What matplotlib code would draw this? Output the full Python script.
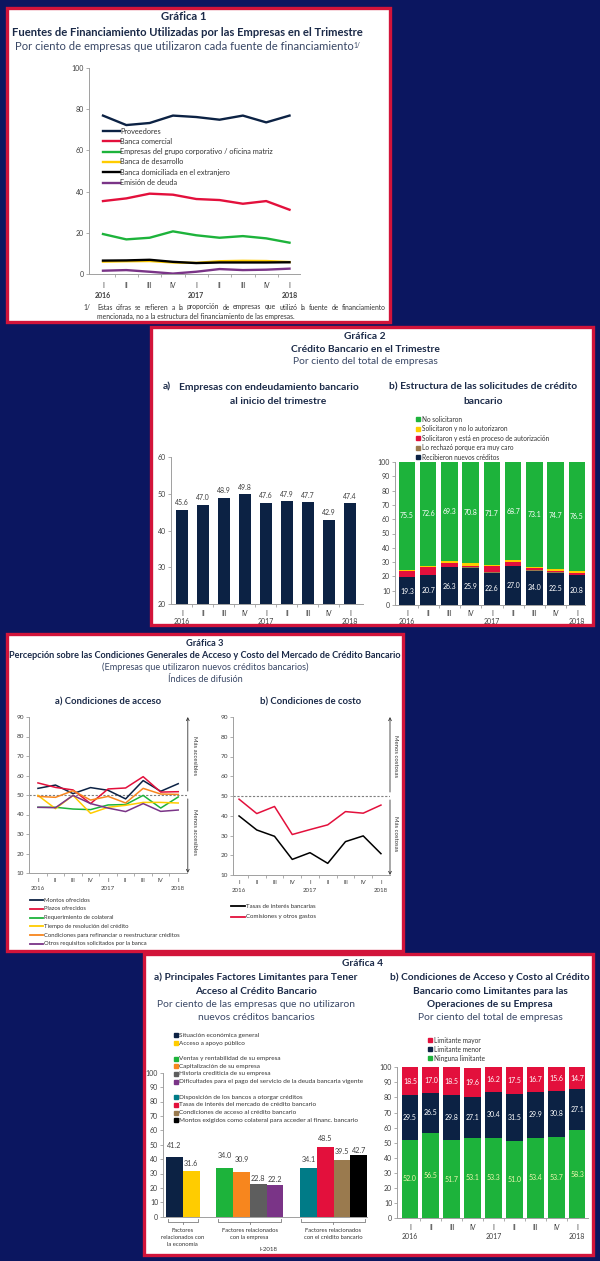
import matplotlib
matplotlib.use("Agg")
import matplotlib.pyplot as plt
from matplotlib.patches import Rectangle
from matplotlib.lines import Line2D
from matplotlib.transforms import blended_transform_factory
import numpy as np

plt.rcParams['font.family'] = ['Lato', 'DejaVu Sans']

# ---------------------------------------------------------------- data
quarters = ["I", "II", "III", "IV", "I", "II", "III", "IV", "I"]
years = {0: "2016", 4: "2017", 8: "2018"}

# Gráfica 1
g1_labels = ["Proveedores", "Banca comercial",
             "Empresas del grupo corporativo / oficina matriz",
             "Banca de desarrollo", "Banca domiciliada en el extranjero",
             "Emisión de deuda"]
proveedores = [76.9, 72.3, 73.3, 76.9, 76.2, 74.9, 76.9, 73.6, 76.9]
banca_comercial = [35.4, 36.7, 39.0, 38.5, 36.4, 35.9, 34.1, 35.4, 31.2]
empresas_grupo = [19.4, 16.8, 17.6, 20.7, 18.8, 17.6, 18.4, 17.3, 15.2]
banca_desarrollo = [6.0, 6.2, 6.3, 5.6, 5.4, 6.2, 6.4, 6.3, 5.8]
banca_extranjero = [6.5, 6.6, 6.9, 5.9, 5.3, 5.6, 5.6, 5.6, 5.7]
emision_deuda = [1.6, 1.9, 1.1, 0.2, 1.1, 2.4, 1.9, 2.1, 2.6]

# Gráfica 2
endeudamiento = [45.6, 47.0, 48.9, 49.8, 47.6, 47.9, 47.7, 42.9, 47.4]
g2b_labels = ["No solicitaron", "Solicitaron y no lo autorizaron",
              "Solicitaron y está en proceso de autorización",
              "Lo rechazó porque era muy caro", "Recibieron nuevos créditos"]
recibieron = [19.3, 20.7, 26.3, 25.9, 22.6, 27.0, 24.0, 22.5, 20.8]
rechazo_caro = [0.3, 0.3, 0.3, 0.6, 0.5, 0.3, 0.5, 0.4, 0.4]
en_proceso = [4.2, 5.4, 2.7, 1.1, 3.9, 2.8, 1.2, 1.2, 1.3]
no_autorizaron = [0.7, 1.0, 1.4, 1.6, 1.3, 1.2, 1.2, 1.2, 1.0]
no_solicitaron = [75.5, 72.6, 69.3, 70.8, 71.7, 68.7, 73.1, 74.7, 76.5]

# Gráfica 3
g3a_labels = ["Montos ofrecidos", "Plazos ofrecidos", "Requerimiento de colateral",
              "Tiempo de resolución del crédito",
              "Condiciones para refinanciar o reestructurar créditos",
              "Otros requisitos solicitados por la banca"]
montos = [53.4, 55.1, 50.7, 53.8, 52.4, 48.0, 57.4, 51.9, 55.8]
plazos = [56.2, 53.9, 52.6, 45.6, 53.1, 53.6, 59.4, 51.5, 51.7]
colateral = [43.7, 43.7, 42.8, 42.5, 44.9, 45.1, 49.8, 43.3, 49.0]
tiempo = [49.8, 43.0, 49.8, 40.6, 43.7, 44.7, 46.2, 46.2, 45.9]
refinanciar = [49.3, 48.8, 52.2, 47.4, 49.3, 45.9, 53.4, 50.5, 50.3]
otros = [43.7, 43.5, 49.8, 45.6, 43.3, 41.5, 45.6, 41.6, 42.3]
g3b_labels = ["Tasas de interés bancarias", "Comisiones y otros gastos"]
tasas = [39.9, 32.8, 29.6, 17.9, 21.3, 15.9, 26.9, 29.8, 20.8]
comisiones = [48.4, 41.1, 44.7, 30.5, 33.0, 35.4, 42.1, 41.3, 45.4]

# Gráfica 4 a)
g4a_labels = ["Situación económica general", "Acceso a apoyo público",
              "Ventas y rentabilidad de su empresa", "Capitalización de su empresa",
              "Historia crediticia de su empresa",
              "Dificultades para el pago del servicio de la deuda bancaria vigente",
              "Disposición de los bancos a otorgar créditos",
              "Tasas de interés del mercado de crédito bancario",
              "Condiciones de acceso al crédito bancario",
              "Montos exigidos como colateral para acceder al financ. bancario"]
g4a_values = [41.2, 31.6, 34.0, 30.9, 22.8, 22.2, 34.1, 48.5, 39.5, 42.7]
g4a_groups = [0, 0, 1, 1, 1, 1, 2, 2, 2, 2]
g4a_group_names = ["Factores\nrelacionados con\nla economía",
                   "Factores relacionados\ncon la empresa",
                   "Factores relacionados\ncon el crédito bancario"]
# Gráfica 4 b)
g4b_labels = ["Limitante mayor", "Limitante menor", "Ninguna limitante"]
ninguna = [52.0, 56.5, 51.7, 53.1, 53.3, 51.0, 53.4, 53.7, 58.3]
menor = [29.5, 26.5, 29.8, 27.1, 30.4, 31.5, 29.9, 30.8, 27.1]
mayor = [18.5, 17.0, 18.5, 19.6, 16.2, 17.5, 16.7, 15.6, 14.7]

# ---------------------------------------------------------------- style
W, H = 600, 1261
BG = '#0b1660'
BORDER = '#d2143a'
TITLE_C = '#1b2a48'
SUB_C = '#3a4866'
TICK_C = '#3f3f3f'
AX_C = '#a0a0a0'
NAVY = '#0c2244'
RED = '#e3103c'
GREEN = '#1db33b'
YELLOW = '#ffcc00'
BLACK = '#000000'
PURPLE = '#7a3487'
ORANGE = '#f7861e'
BROWN = '#9a7a4e'
GRAY = '#5e5e5e'
TEAL = '#007b87'

fig = plt.figure(figsize=(W / 100, H / 100), dpi=100, facecolor=BG)


def fx(x):
    return x / W


def fy(y):
    return 1 - y / H


def T(x, y, s, fs, bold=False, color=TITLE_C, ha='center', va='center', **kw):
    return fig.text(fx(x), fy(y), s, fontsize=fs, fontweight='bold' if bold else 'normal',
                    color=color, ha=ha, va=va, **kw)


def AX(l, t, r, b):
    ax = fig.add_axes([fx(l), fy(b), (r - l) / W, (b - t) / H])
    ax.set_facecolor('none')
    return ax


def panel(x0, y0, x1, y1):
    fig.patches.append(Rectangle((fx(x0), fy(y1)), (x1 - x0) / W, (y1 - y0) / H,
                                 transform=fig.transFigure, facecolor='white',
                                 edgecolor=BORDER, lw=2.4, zorder=-5))


def style(ax, ylim, ystep, xlim, yfs=5.0):
    ax.set_xlim(*xlim)
    ax.set_ylim(*ylim)
    ax.set_yticks(np.arange(ylim[0], ylim[1] + 0.1, ystep))
    for s in ['top', 'right']:
        ax.spines[s].set_visible(False)
    for s in ['left', 'bottom']:
        ax.spines[s].set_color(AX_C)
        ax.spines[s].set_linewidth(0.7)
    ax.tick_params(axis='y', labelsize=yfs, labelcolor=TICK_C, length=2, width=0.6,
                   color=AX_C, pad=1.5)
    ax.set_xticks([])


def cat_axis(ax, qy, yy, fs=5.0, year_bold=False, n=9):
    ax.set_xticks(np.arange(0.5, n - 1, 1), minor=True)
    ax.tick_params(axis='x', which='minor', length=2, width=0.6, color=AX_C)
    tr = blended_transform_factory(ax.transData, fig.transFigure)
    for i, q in enumerate(quarters):
        ax.text(i, fy(qy), q, transform=tr, ha='center', va='center', fontsize=fs,
                color=TICK_C)
    for i, yr in years.items():
        ax.text(i, fy(yy), yr, transform=tr, ha='center', va='center', fontsize=fs,
                color=TICK_C, fontweight='bold' if year_bold else 'normal')


def line_legend(x0, x1, y0, dy, labels, colors, fs, lw=1.4):
    for i, (lab, c) in enumerate(zip(labels, colors)):
        y = y0 + i * dy
        fig.add_artist(Line2D([fx(x0), fx(x1)], [fy(y), fy(y)], color=c, lw=lw,
                              transform=fig.transFigure))
        T(x1 + 0.5, y, lab, fs, color='#333333', ha='left')


def sq_legend(x, ys, labels, colors, fs, ms=3.0):
    for y, lab, c in zip(ys, labels, colors):
        fig.add_artist(Line2D([fx(x)], [fy(y)], marker='s', ms=ms, color=c, ls='none',
                              transform=fig.transFigure))
        T(x + 3.5, y, lab, fs, color='#333333', ha='left')


# ---------------------------------------------------------------- panels
panel(7, 8, 390, 322)
panel(151, 327, 593, 625)
panel(7, 634, 403, 951)
panel(144, 954, 593, 1255)

x9 = np.arange(9)

# ================================================================ Gráfica 1
T(184, 17, "Gráfica 1", 8.1, bold=True)
T(187, 32, "Fuentes de Financiamiento Utilizadas por las Empresas en el Trimestre", 8.1, bold=True)
sub1 = T(184, 47, "Por ciento de empresas que utilizaron cada fuente de financiamiento", 8.1,
         color=SUB_C)

ax1 = AX(89, 68, 300, 274)
style(ax1, (0, 100), 20, (-0.6, 8.45))
g1_series = [proveedores, banca_comercial, empresas_grupo, banca_desarrollo,
             banca_extranjero, emision_deuda]
g1_colors = [NAVY, RED, GREEN, YELLOW, BLACK, PURPLE]
for s, c in zip(g1_series, g1_colors):
    ax1.plot(x9, s, color=c, lw=1.7, solid_joinstyle='round')
cat_axis(ax1, 285, 295, fs=5.0, year_bold=True)
line_legend(103, 119.5, 131, 10.3, g1_labels, g1_colors, 5.3, lw=1.7)

# footnote (justified)
FN_FS = 4.85
T(83, 307, "1/", FN_FS, color='#333333', ha='left')
fn1 = "Estas cifras se refieren a la proporción de empresas que utilizó la fuente de financiamiento".split()
fn_texts = [T(0, 307, w, FN_FS, color='#333333', ha='left') for w in fn1]
T(97, 316, "mencionada, no a la estructura del financiamiento de las empresas.", FN_FS,
  color='#333333', ha='left')

# ================================================================ Gráfica 2
T(365, 337, "Gráfica 2", 7.4, bold=True)
T(365, 349.5, "Crédito Bancario en el Trimestre", 7.4, bold=True)
T(365, 362, "Por ciento del total de empresas", 7.4, color=SUB_C)
T(163, 387, "a)", 7.4, bold=True, ha='left')
T(269, 387, "Empresas con endeudamiento bancario", 7.4, bold=True)
T(278, 401, "al inicio del trimestre", 7.4, bold=True)
T(483, 387, "b) Estructura de las solicitudes de crédito", 7.4, bold=True)
T(483, 401, "bancario", 7.4, bold=True)

ax2a = AX(171, 457, 363, 604)
style(ax2a, (20, 60), 10, (-0.52, 8.62))
ax2a.bar(x9, endeudamiento, width=0.6, color=NAVY, bottom=0)
for xi, v in zip(x9, endeudamiento):
    ax2a.annotate(f"{v:.1f}", (xi, v), xytext=(0, 2.5), textcoords='offset points',
                  ha='center', va='bottom', fontsize=5.0, color=TICK_C)
cat_axis(ax2a, 613, 622)

ax2b = AX(395, 462, 585, 605)
style(ax2b, (0, 100), 10, (-0.56, 8.38))
bottom = np.zeros(9)
stack2 = [(recibieron, NAVY), (rechazo_caro, BROWN), (en_proceso, RED),
          (no_autorizaron, YELLOW), (no_solicitaron, GREEN)]
for vals, c in stack2:
    ax2b.bar(x9, vals, bottom=bottom, width=0.78, color=c)
    bottom = bottom + np.array(vals)
base_green = (np.array(recibieron) + np.array(rechazo_caro) + np.array(en_proceso)
              + np.array(no_autorizaron))
for xi, v in zip(x9, recibieron):
    ax2b.text(xi, v / 2, f"{v:.1f}", ha='center', va='center', fontsize=5.0, color='white')
for xi, b, v in zip(x9, base_green, no_solicitaron):
    ax2b.text(xi, b + v / 2, f"{v:.1f}", ha='center', va='center', fontsize=5.0, color='white')
cat_axis(ax2b, 613, 622)
sq_legend(418, [419.3 + 9.5 * i for i in range(5)], g2b_labels,
          [GREEN, YELLOW, RED, BROWN, NAVY], 4.7)

# ================================================================ Gráfica 3
T(205, 643, "Gráfica 3", 6.7, bold=True)
T(205, 655, "Percepción sobre las Condiciones Generales de Acceso y Costo del Mercado de Crédito Bancario",
  6.6, bold=True)
T(205, 667, "(Empresas que utilizaron nuevos créditos bancarios)", 6.6, color=SUB_C)
T(205, 679, "Índices de difusión", 6.6, color=SUB_C)
T(108, 702, "a) Condiciones de acceso", 6.8, bold=True)
T(311, 702, "b) Condiciones de costo", 6.8, bold=True)


def arrows(ax, up_txt, dn_txt, xa, xt):
    tr = ax.get_yaxis_transform()
    ax.annotate('', xy=(xa, 90), xytext=(xa, 52), xycoords=tr, textcoords=tr,
                arrowprops=dict(arrowstyle='->', color='#333333', lw=0.6,
                                shrinkA=0, shrinkB=0, mutation_scale=5))
    ax.annotate('', xy=(xa, 10), xytext=(xa, 48), xycoords=tr, textcoords=tr,
                arrowprops=dict(arrowstyle='->', color='#333333', lw=0.6,
                                shrinkA=0, shrinkB=0, mutation_scale=5))
    ax.text(xt, 70, up_txt, transform=tr, rotation=-90, ha='center', va='center',
            fontsize=4.3, color='#333333')
    ax.text(xt, 31, dn_txt, transform=tr, rotation=-90, ha='center', va='center',
            fontsize=4.3, color='#333333')


ax3a = AX(29, 717, 187, 873)
style(ax3a, (10, 90), 10, (-0.51, 8.5), yfs=4.6)
ax3a.axhline(50, color='#7f7f7f', lw=0.8, ls=(0, (2, 1.5)))
g3a_series = [montos, plazos, colateral, tiempo, refinanciar, otros]
g3a_colors = [NAVY, RED, GREEN, YELLOW, ORANGE, PURPLE]
for s, c in zip(g3a_series, g3a_colors):
    ax3a.plot(x9, s, color=c, lw=1.1)
cat_axis(ax3a, 881, 889, fs=4.4)
arrows(ax3a, "Más accesibles", "Menos accesibles", 1.005, 1.045)
line_legend(30, 43, 900, 8.75, g3a_labels, g3a_colors, 4.25, lw=1.3)

ax3b = AX(233, 717, 390, 875)
style(ax3b, (10, 90), 10, (-0.34, 8.51), yfs=4.6)
ax3b.axhline(50, color='#7f7f7f', lw=0.8, ls=(0, (2, 1.5)))
for s, c in zip([tasas, comisiones], [BLACK, RED]):
    ax3b.plot(x9, s, color=c, lw=1.1)
cat_axis(ax3b, 883, 891, fs=4.4)
arrows(ax3b, "Menos costosas", "Más costosas", 1.0, 1.035)
line_legend(231, 245, 906.3, 10.4, g3b_labels, [BLACK, RED], 4.4, lw=1.3)

# ================================================================ Gráfica 4
T(363, 963, "Gráfica 4", 7.3, bold=True)
T(256, 977, "a) Principales Factores Limitantes para Tener", 7.25, bold=True)
T(256, 991, "Acceso al Crédito Bancario", 7.25, bold=True)
T(256, 1004.5, "Por ciento de las empresas que no utilizaron", 7.4, color=SUB_C)
T(256, 1018, "nuevos créditos bancarios", 7.4, color=SUB_C)
T(490, 977, "b) Condiciones de Acceso y Costo al Crédito", 7.25, bold=True)
T(490, 991, "Bancario como Limitantes para las", 7.25, bold=True)
T(490, 1004.5, "Operaciones de su Empresa", 7.25, bold=True)
T(490, 1018, "Por ciento del total de empresas", 7.4, color=SUB_C)

g4a_colors = [NAVY, YELLOW, GREEN, ORANGE, GRAY, PURPLE, TEAL, RED, BROWN, BLACK]
g4a_slots = [0, 1, 3, 4, 5, 6, 8, 9, 10, 11]
label_dy = [8, 4.5, 9, 9, 2, 2, 4.5, 5, 5, 1.5]   # label offsets in px (style)
ax4a = AX(163, 1072.7, 367, 1216.7)
style(ax4a, (0, 100), 10, (-0.69, 11.5), yfs=5.0)
ax4a.bar(g4a_slots, g4a_values, width=1.0, color=g4a_colors)
for xs, v, d in zip(g4a_slots, g4a_values, label_dy):
    ax4a.annotate(f"{v:.1f}", (xs, v), xytext=(0, d * 0.72), textcoords='offset points',
                  ha='center', va='bottom', fontsize=5.2, color=TICK_C)
ax4a.tick_params(axis='x', length=0)
trb = blended_transform_factory(ax4a.transData, fig.transFigure)
for g, name in enumerate(g4a_group_names):
    sl = [s for s, gg in zip(g4a_slots, g4a_groups) if gg == g]
    a, b = min(sl) - 0.42, max(sl) + 0.38
    c = (a + b) / 2
    yb = fy(1221.7)
    ax4a.plot([a, a, b, b], [fy(1219.2), yb, yb, fy(1219.2)], transform=trb,
              color='#7f7f7f', lw=0.6, clip_on=False)
    ax4a.plot([c, c], [yb, fy(1224)], transform=trb, color='#7f7f7f', lw=0.6,
              clip_on=False)
    ax4a.text(c, fy(1228), name, transform=trb, ha='center', va='top', fontsize=4.2,
              color='#333333', linespacing=1.45)
T(268, 1249.3, "I-2018", 4.4, color='#333333')
ys4a = [1035.3, 1043.3, 1058.7, 1066.3, 1074.0, 1081.8, 1097.3, 1105.0, 1112.8, 1120.4]
sq_legend(175.7, ys4a, g4a_labels, g4a_colors, 4.6, ms=2.9)

ax4b = AX(397, 1067.3, 588, 1218)
style(ax4b, (0, 100), 10, (-0.62, 8.52), yfs=5.0)
b0 = np.zeros(9)
for vals, c in [(ninguna, GREEN), (menor, NAVY), (mayor, RED)]:
    ax4b.bar(x9, vals, bottom=b0, width=0.8, color=c)
    b0 = b0 + np.array(vals)
n_ = np.array(ninguna)
m_ = np.array(menor)
for xi in x9:
    ax4b.text(xi, n_[xi] / 2, f"{ninguna[xi]:.1f}", ha='center', va='center',
              fontsize=5.0, color='#eef7b0')
    ax4b.text(xi, n_[xi] + m_[xi] / 2, f"{menor[xi]:.1f}", ha='center', va='center',
              fontsize=5.0, color='white')
    ax4b.text(xi, n_[xi] + m_[xi] + mayor[xi] / 2, f"{mayor[xi]:.1f}", ha='center',
              va='center', fontsize=5.0, color='white')
cat_axis(ax4b, 1227.7, 1236.7)
sq_legend(430, [1040.3, 1049.3, 1058.3], g4b_labels, [RED, NAVY, GREEN], 4.7)

# ---------------------------------------------------------------- layout fixes
fig.canvas.draw()
r = fig.canvas.get_renderer()
widths = [t.get_window_extent(r).width for t in fn_texts]
gap = (386 - 97 - sum(widths)) / (len(fn_texts) - 1)
xx = 97
for t, w in zip(fn_texts, widths):
    t.set_position((fx(xx), fy(307)))
    xx += w + gap
bb = sub1.get_window_extent(r)
fig.text(bb.x1 / W + 0.5 / W, bb.y1 / H - 1.0 / H, "1/", fontsize=4.8, color=SUB_C,
         ha='left', va='top')

fig.savefig("out.png", dpi=100, facecolor=BG)
